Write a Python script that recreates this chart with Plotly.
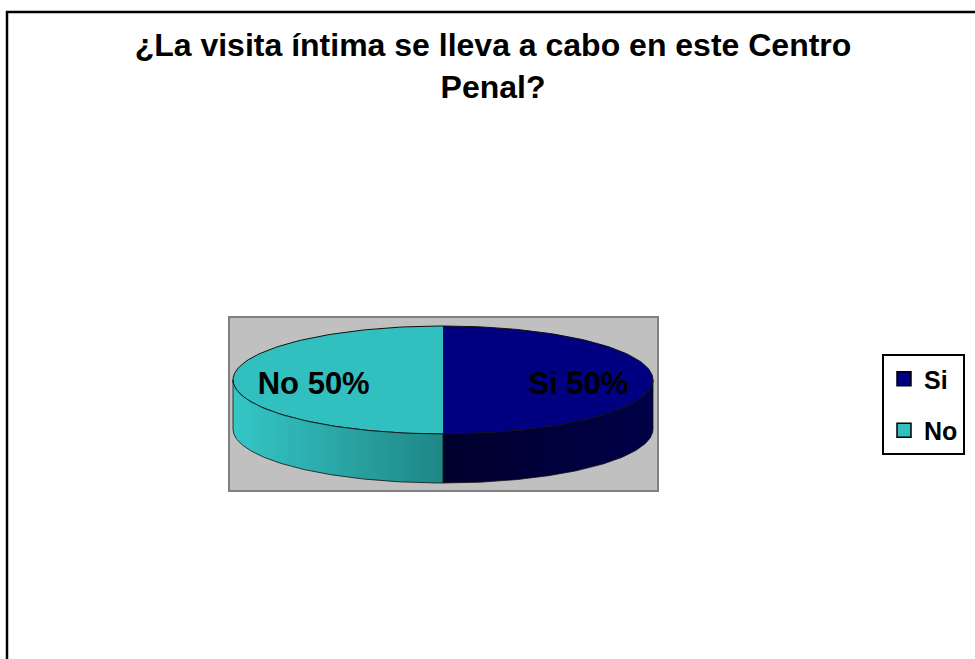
import numpy as np
import plotly.graph_objects as go

# datos
categorias = ["Si", "No"]
valores = [50, 50]
colores_tapa = ["#000080", "#31BFBF"]
colores_lado = [["#00002E", "#000048"], ["#35C6C6", "#1F8686"]]

titulo = "¿La visita íntima se lleva a cabo en este Centro<br>Penal?"

# geometria del pastel "3D" (en unidades de pixel del area de trazado)
RX, RY, ALTO = 210, 54, 49
FUENTE = "Liberation Sans, Arial, sans-serif"

fig = go.Figure()

total = sum(valores)
inicio = 0.0
for cat, val, ctapa, clado in zip(categorias, valores, colores_tapa, colores_lado):
    fin = inicio + 360.0 * val / total
    th = np.radians(np.linspace(inicio, fin, 120))
    ax = RX * np.sin(th)
    ay = -RY * np.cos(th)

    # tapa superior
    fig.add_trace(go.Scatter(
        x=np.r_[0, ax, 0], y=np.r_[0, ay, 0], mode="lines", fill="toself",
        fillcolor=ctapa, line=dict(width=0), hoverinfo="skip", showlegend=False))
    fig.add_trace(go.Scatter(
        x=ax, y=ay, mode="lines", line=dict(color="#111111", width=1),
        hoverinfo="skip", showlegend=False))

    # pared lateral visible (parte frontal, 90..270 grados)
    a0, a1 = max(inicio, 90), min(fin, 270)
    if a1 > a0:
        tl = np.radians(np.linspace(a0, a1, 100))
        lx = RX * np.sin(tl)
        ly = -RY * np.cos(tl)
        fig.add_trace(go.Scatter(
            x=np.r_[lx, lx[::-1], lx[0]], y=np.r_[ly, ly[::-1] + ALTO, ly[0]],
            mode="lines", fill="toself", line=dict(color="#111111", width=0.8),
            fillgradient=dict(type="horizontal",
                              colorscale=[[0, clado[0]], [1, clado[1]]]),
            hoverinfo="skip", showlegend=False))

    # etiqueta
    medio = np.radians((inicio + fin) / 2)
    fig.add_trace(go.Scatter(
        x=[0.63 * RX * np.sin(medio) + 3], y=[-0.63 * RY * np.cos(medio) + 6],
        mode="text", text=[f"{cat} {val / total:.0%}"],
        textfont=dict(family=FUENTE, size=31, color="black", weight="bold"),
        hoverinfo="skip", showlegend=False))

    # entrada de leyenda
    fig.add_trace(go.Scatter(
        x=[None], y=[None], mode="markers", name=cat, legendgroup=cat,
        marker=dict(symbol="square", size=14, color=ctapa,
                    line=dict(color="black", width=1.5))))
    inicio = fin

W, H = 975, 659
fig.update_layout(
    width=W, height=H,
    margin=dict(l=0, r=0, t=0, b=0),
    paper_bgcolor="white",
    plot_bgcolor="#C0C0C0",
    title=dict(text=titulo, x=493 / W, xanchor="center", y=1 - 56 / H, yanchor="top",
               font=dict(family=FUENTE, size=32, color="black", weight="bold")),
    xaxis=dict(domain=[230 / W, 657 / W], range=[-213, 214], visible=True,
               showgrid=False, zeroline=False, showticklabels=False,
               showline=True, mirror=True, linecolor="#808080", linewidth=2),
    yaxis=dict(domain=[1 - 490 / H, 1 - 318 / H], range=[110, -62],
               showgrid=False, zeroline=False, showticklabels=False,
               showline=True, mirror=True, linecolor="#808080", linewidth=2),
    legend=dict(x=882 / W, y=1 - 354 / H, xanchor="left", yanchor="top",
                bordercolor="black", borderwidth=2, bgcolor="white",
                tracegroupgap=16, itemwidth=30,
                font=dict(family=FUENTE, size=25, color="black", weight="bold")),
    shapes=[dict(type="rect", xref="paper", yref="paper",
                 x0=7 / W, x1=1.05, y0=-0.05, y1=1 - 12 / H,
                 line=dict(color="black", width=2.5))],
)

fig.write_html("out.html", config={"displayModeBar": False},
               post_script="document.body.style.margin='0';")
